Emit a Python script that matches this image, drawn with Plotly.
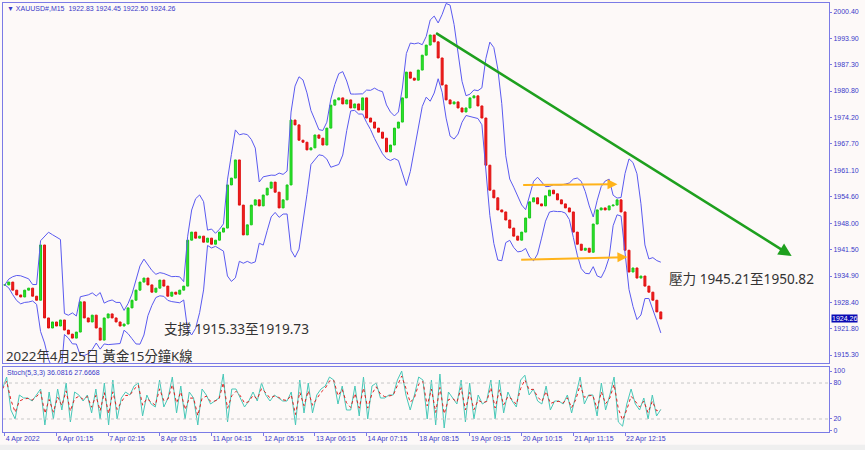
import plotly.graph_objects as go
from plotly.subplots import make_subplots
import pandas as pd
import numpy as np

# ---------------- data ----------------
closes = [
    1932.7, 1933.4, 1931.4, 1930.2, 1929.7, 1931.4, 1931.9, 1929.9, 1928.9, 1942.6,
    1924.5, 1922.0, 1923.5, 1922.5, 1924.0, 1921.5, 1920.5, 1919.5, 1921.0, 1928.5,
    1924.5, 1923.5, 1925.2, 1922.0, 1919.0, 1924.5, 1925.5, 1924.5, 1923.5, 1922.5,
    1923.0, 1927.0, 1928.9, 1931.4, 1933.4, 1934.4, 1932.7, 1930.9, 1931.9, 1933.9,
    1932.4, 1929.9, 1930.9, 1930.4, 1931.4, 1932.4, 1943.8, 1945.8, 1944.3, 1944.8,
    1943.3, 1944.3, 1942.8, 1943.8, 1945.8, 1946.8, 1957.5, 1959.2, 1963.7, 1952.5,
    1945.1, 1947.6, 1952.5, 1953.8, 1952.3, 1955.0, 1956.7, 1958.2, 1955.7, 1951.8,
    1953.8, 1957.5, 1973.6, 1972.4, 1968.6, 1968.1, 1966.2, 1966.7, 1969.9, 1969.1,
    1967.4, 1971.6, 1977.3, 1978.6, 1979.1, 1977.6, 1978.6, 1976.6, 1977.6, 1976.1,
    1979.1, 1974.1, 1973.1, 1971.6, 1970.6, 1969.1, 1965.7, 1967.4, 1971.6, 1973.1,
    1979.1, 1985.5, 1984.0, 1983.5, 1986.0, 1989.7, 1992.2, 1994.7, 1993.0, 1989.0,
    1982.3, 1978.6, 1977.6, 1978.1, 1976.6, 1975.6, 1976.6, 1979.1, 1979.6, 1977.1,
    1974.1, 1962.4, 1956.2, 1954.3, 1951.3, 1950.8, 1948.8, 1946.8, 1944.8, 1943.8,
    1945.8, 1949.3, 1953.3, 1954.3, 1952.8, 1952.3, 1954.8, 1956.2, 1955.3, 1953.8,
    1952.8, 1951.8, 1950.8, 1945.8, 1942.8, 1941.3, 1941.8, 1940.8, 1947.8, 1951.3,
    1951.8, 1951.3, 1952.3, 1952.5, 1953.8, 1950.8, 1941.3, 1935.9, 1936.9, 1934.4,
    1934.9, 1932.4, 1930.9, 1928.9, 1926.0, 1924.26,
]

stoch_k = [
    70, 90, 35, 20, 60, 55, 55, 50, 60, 70, 10, 65, 20, 70, 35, 80, 15, 65, 60, 50,
    60, 30, 70, 20, 80, 10, 85, 20, 55, 65, 60, 75, 80, 25, 60, 45, 40, 85, 40, 55,
    90, 30, 75, 20, 65, 55, 10, 70, 60, 45, 50, 55, 95, 15, 70, 70, 55, 40, 50, 65,
    50, 80, 60, 50, 60, 55, 50, 50, 65, 10, 85, 30, 80, 30, 60, 70, 75, 90, 85, 45,
    75, 35, 35, 75, 25, 90, 20, 75, 80, 55, 55, 60, 60, 85, 100, 60, 35, 60, 90, 85,
    20, 85, 10, 95, 5, 65, 55, 45, 85, 15, 80, 20, 60, 45, 50, 85, 20, 85, 30, 65,
    50, 40, 85, 93, 60, 70, 50, 45, 75, 35, 50, 50, 45, 60, 30, 60, 90, 45, 60, 60,
    25, 80, 35, 60, 90, 15, 8, 45, 70, 45, 35, 55, 20, 60, 25, 36,
]

price_ticks = [2000.40, 1993.90, 1987.30, 1980.80, 1974.20, 1967.70, 1961.10,
               1954.60, 1948.00, 1941.50, 1934.90, 1928.40, 1921.80, 1915.30]
stoch_ticks = [100, 80, 20, 0]
date_labels = ["4 Apr 2022", "6 Apr 01:15", "7 Apr 02:15", "8 Apr 03:15",
               "11 Apr 04:15", "12 Apr 05:15", "13 Apr 06:15", "14 Apr 07:15",
               "18 Apr 08:15", "19 Apr 09:15", "20 Apr 10:15", "21 Apr 11:15",
               "22 Apr 12:15"]
date_label_bar = [0, 13, 26, 39, 52, 65, 78, 91, 104, 117, 130, 143, 156]

# drawn objects (bar index, price)
trend_line = [(108.1, 1995.4), (197.9, 1939.9)]
range_top = [(130.0, 1957.5), (154.1, 1957.7)]
range_bottom = [(129.5, 1938.9), (156.6, 1939.6)]

header = "XAUUSD#,M15  1922.83 1924.45 1922.50 1924.26"
stoch_label = "Stoch(5,3,3) 36.0816 27.6668"
last_price = 1924.26

# ---------------- derived series ----------------
n = len(closes)
idx = list(range(n))
opens = [closes[0]] + closes[:-1]
highs = [max(o, c) for o, c in zip(opens, closes)]
lows = [min(o, c) for o, c in zip(opens, closes)]

s = pd.Series(closes)
mid = s.rolling(6, min_periods=1).mean()
sd = s.rolling(6, min_periods=2).std().fillna(0)
upper = mid + 2.2 * sd
lower = mid - 2.2 * sd

k_series = pd.Series(stoch_k, dtype=float)
d_series = k_series.ewm(alpha=0.65, adjust=False).mean()
stoch_x = np.linspace(-0.6, n - 1, len(stoch_k))

# ---------------- figure ----------------
fig = make_subplots(rows=2, cols=1, shared_xaxes=True)

blue = "#5a5af0"
axis_col = "#7b7be6"
txt_blue = "#3a3ac8"

fig.add_trace(go.Scatter(x=idx, y=upper, mode="lines", line=dict(color=blue, width=1),
                         hoverinfo="skip", showlegend=False), row=1, col=1)
fig.add_trace(go.Scatter(x=idx, y=lower, mode="lines", line=dict(color=blue, width=1),
                         hoverinfo="skip", showlegend=False), row=1, col=1)
fig.add_trace(go.Candlestick(
    x=idx, open=opens, high=highs, low=lows, close=closes,
    increasing=dict(line=dict(color="#19c819", width=1), fillcolor="#2ee62e"),
    decreasing=dict(line=dict(color="#e01010", width=1), fillcolor="#f02020"),
    whiskerwidth=0, showlegend=False), row=1, col=1)

fig.add_trace(go.Scatter(x=stoch_x, y=k_series, mode="lines", line=dict(color="#48c8b8", width=1),
                         showlegend=False), row=2, col=1)
fig.add_trace(go.Scatter(x=stoch_x, y=d_series, mode="lines",
                         line=dict(color="#e02020", width=1, dash="dot"),
                         showlegend=False), row=2, col=1)

for lv in (80, 20):
    fig.add_hline(y=lv, line=dict(color="#c8c8c8", width=1, dash="dot"), row=2, col=1)

# trend line (green arrow)
fig.add_annotation(x=trend_line[1][0], y=trend_line[1][1], ax=trend_line[0][0], ay=trend_line[0][1],
                   xref="x", yref="y", axref="x", ayref="y", text="", showarrow=True,
                   arrowhead=2, arrowsize=1, arrowwidth=2.6, arrowcolor="#1ea01e")
for seg in (range_top, range_bottom):
    fig.add_annotation(x=seg[1][0], y=seg[1][1], ax=seg[0][0], ay=seg[0][1],
                       xref="x", yref="y", axref="x", ayref="y", text="", showarrow=True,
                       arrowhead=2, arrowsize=1, arrowwidth=2, arrowcolor="#ffb31a")

cjk = "Noto Sans, Noto Sans CJK TC"
fig.add_annotation(x=0.0008, y=1915.0, xref="paper", yref="y", text="2022年4月25日 黃金15分鐘K線",
                   showarrow=False, xanchor="left", yanchor="middle",
                   font=dict(family=cjk, size=13.3, color="#333333"))
fig.add_annotation(x=0.1925, y=1922.0, xref="paper", yref="y", text="支撐 1915.33至1919.73",
                   showarrow=False, xanchor="left", yanchor="middle",
                   font=dict(family=cjk, size=13.6, color="#333333"))
fig.add_annotation(x=0.8035, y=1934.2, xref="paper", yref="y", text="壓力 1945.21至1950.82",
                   showarrow=False, xanchor="left", yanchor="middle",
                   font=dict(family=cjk, size=13.6, color="#333333"))

small = dict(family="Liberation Sans, Arial", size=7, color=txt_blue)
fig.add_annotation(x=0.003, y=1.0, xref="paper", yref="paper", text="▼ " + header,
                   showarrow=False, xanchor="left", yanchor="top", font=small)
fig.add_annotation(x=0.003, y=106, xref="paper", yref="y2", text=stoch_label,
                   showarrow=False, xanchor="left", yanchor="top", font=small)
fig.add_annotation(x=1.0, y=last_price, xref="paper", yref="y", text=f"{last_price:.2f}",
                   showarrow=False, xanchor="left", yanchor="middle", bgcolor="#0a0ab4",
                   borderpad=0, xshift=2, font=dict(family="Liberation Sans, Arial", size=7, color="white"))

# bottom strip
fig.add_shape(type="rect", xref="paper", yref="paper", x0=-0.01, x1=1.1, y0=-0.03, y1=-0.06,
              fillcolor="#efefef", line=dict(width=0), layer="below")

fig.update_layout(
    width=865, height=450,
    margin=dict(l=3, r=36, t=3, b=18, autoexpand=False),
    paper_bgcolor="#fdf9f8", plot_bgcolor="#fdf9f8",
    showlegend=False,
    xaxis=dict(rangeslider=dict(visible=False)),
)

xr = [-0.45, 207.3]
fig.update_xaxes(range=xr, showgrid=False, zeroline=False, showline=True, mirror=True,
                 linecolor=axis_col, linewidth=1, automargin=False)
fig.update_xaxes(showticklabels=False, ticks="", row=1, col=1)
fig.update_xaxes(tickvals=date_label_bar, ticktext=date_labels, ticks="outside", ticklen=3,
                 tickcolor=axis_col, ticklabelposition="outside right",
                 tickfont=dict(family="Liberation Sans, Arial", size=7, color=txt_blue),
                 row=2, col=1)

fig.update_yaxes(side="right", showgrid=False, zeroline=False, showline=True, mirror=True,
                 linecolor=axis_col, linewidth=1, ticks="outside", ticklen=2, tickcolor=axis_col,
                 automargin=False,
                 tickfont=dict(family="Liberation Sans, Arial", size=7, color=txt_blue))
fig.update_yaxes(range=[1913.32, 2002.64], tickvals=price_ticks,
                 ticktext=[f"{v:.2f}" for v in price_ticks], domain=[0.1608, 1.0], row=1, col=1)
fig.update_yaxes(range=[-1.7, 106.7], tickvals=stoch_ticks, ticktext=[str(v) for v in stoch_ticks],
                 domain=[0.0, 0.1515], row=2, col=1)

fig.write_html("out.html", config={"displayModeBar": False},
               post_script="document.body.style.margin='0px';document.body.style.overflow='hidden';")
